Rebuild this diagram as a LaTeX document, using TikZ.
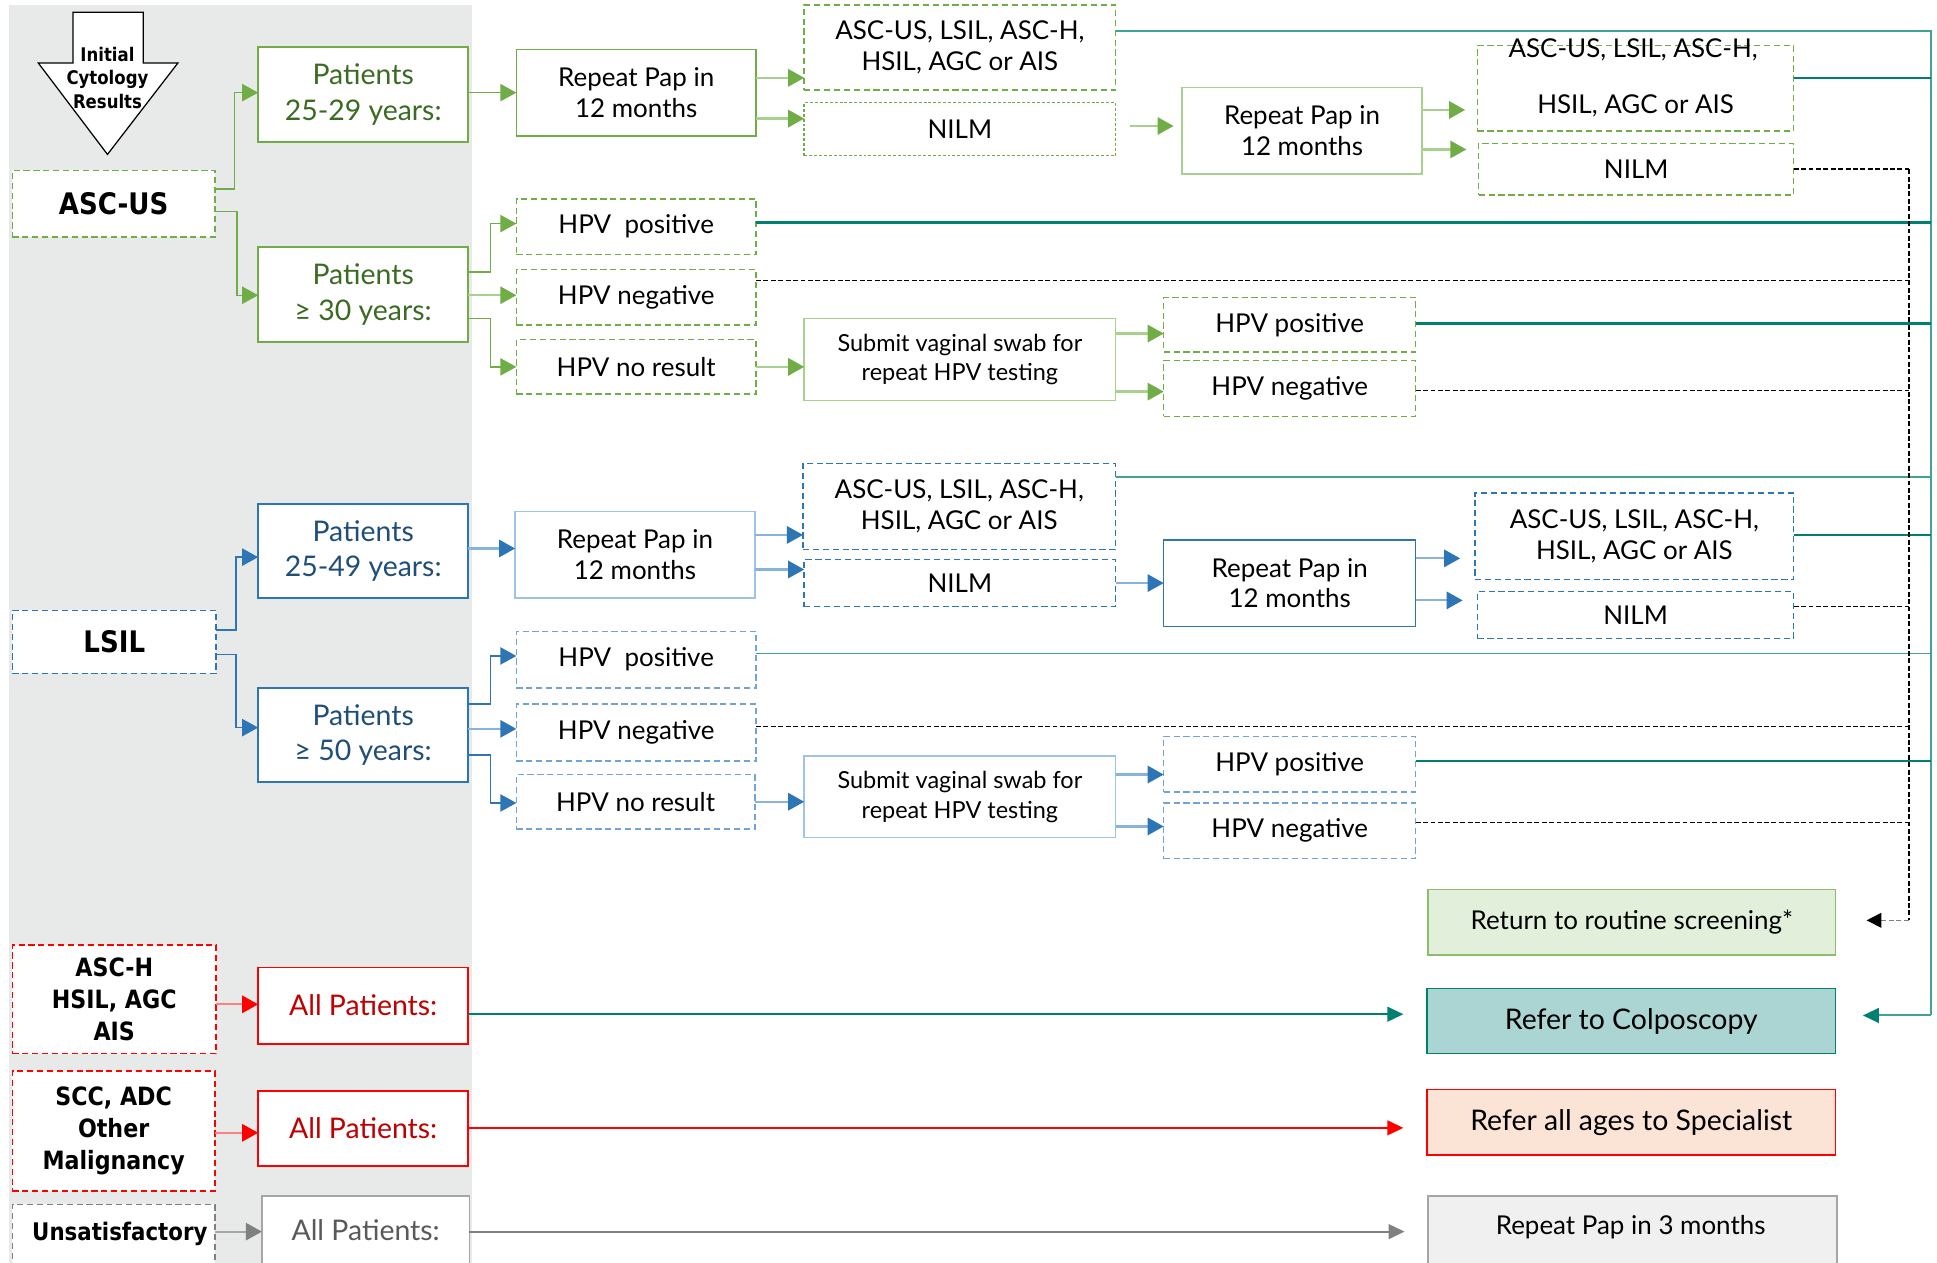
\documentclass[tikz,border=0pt]{standalone}
\usepackage{fontspec}
\setmainfont{Lato}
\newfontfamily\labfont[FakeStretch=0.88]{DejaVu Sans}
\usetikzlibrary{arrows.meta}
\definecolor{gr}{HTML}{70AD47}
\definecolor{grl}{HTML}{A9D18E}
\definecolor{grt}{HTML}{3B6B23}
\definecolor{bl}{HTML}{2E75B6}
\definecolor{bll}{HTML}{9DC3E6}
\definecolor{blt}{HTML}{1F4E79}
\definecolor{tl}{HTML}{00806F}
\definecolor{tll}{HTML}{3FA396}
\definecolor{rd}{HTML}{FF0000}
\definecolor{rdt}{HTML}{C00000}
\definecolor{gy}{HTML}{808080}
\definecolor{gyl}{HTML}{A6A6A6}
\definecolor{gyt}{HTML}{595959}
\definecolor{bgc}{HTML}{E8EAE9}
\definecolor{retf}{HTML}{E2EFDA}
\definecolor{colf}{HTML}{AAD5D2}
\definecolor{spf}{HTML}{FBE3D6}
\definecolor{rpf}{HTML}{F0F0F0}
\newcommand{\mybox}[7]{%
  \pgfmathsetmacro\bxw{(#4-#2)*0.5}%
  \pgfmathsetmacro\bxh{(#5-#3)*0.5}%
  \pgfmathsetmacro\bxx{(#2+#4)/2}%
  \pgfmathsetmacro\bxy{(#3+#5)/2}%
  \node[#6, minimum width=\bxw pt, minimum height=\bxh pt] (#1) at (\bxx,\bxy) {#7};}
\begin{document}
\begin{tikzpicture}[x=0.5pt,y=-0.5pt,
  base/.style={inner sep=0pt, outer sep=0pt, align=center, fill=white, line width=0.6pt},
  pat/.style={base, font=\fontsize{11.5}{14.5}\selectfont},
  mid/.style={base, font=\fontsize{10.5}{12.5}\selectfont},
  swabf/.style={base, font=\fontsize{9.5}{12}\selectfont},
  lab/.style={base, font=\labfont\bfseries\fontsize{12}{13}\selectfont},
  labs/.style={base, font=\labfont\bfseries\fontsize{10.2}{13}\selectfont},
  gdash/.style={draw=gr, dash pattern=on 2.5pt off 1.5pt},
  gfine/.style={draw=gr, dash pattern=on 1.2pt off 0.8pt},
  bdash/.style={draw=bl, dash pattern=on 2.5pt off 1.5pt},
  rdash/.style={draw=rd, dash pattern=on 2.5pt off 1.5pt},
  ydash/.style={draw=gy, dash pattern=on 2.5pt off 1.5pt},
  garr/.style={draw=grl, line width=0.9pt, -{Triangle[length=6.5pt,width=7pt,color=gr]}},
  gcon/.style={draw=gr, line width=0.6pt, -{Triangle[length=6.5pt,width=7pt,color=gr]}},
  barr/.style={draw=bll!80!bl, line width=0.9pt, -{Triangle[length=6.5pt,width=7pt,color=bl]}},
  bcon/.style={draw=bl, line width=0.6pt, -{Triangle[length=6.5pt,width=7pt,color=bl]}},
  tline/.style={draw=tl, line width=1pt},
  tthin/.style={draw=tll, line width=0.6pt},
  dline/.style={draw=black, line width=0.6pt, dash pattern=on 2pt off 1pt},
  bigarr/.style={line width=0.8pt, -{Triangle[length=6.5pt,width=6pt]}}
]
\useasboundingbox (0,0) rectangle (1568,1022);
\clip (0,0) rectangle (1568,1022);
\fill[white] (0,0) rectangle (1568,1022);
\fill[bgc] (7,4) rectangle (382,1030);

% initial cytology arrow
\draw[fill=white, line width=0.5pt] (59,10) -- (116,10) -- (116,51) -- (144,51) -- (87,125) -- (31,51) -- (59,51) -- cycle;
\node[inner sep=0pt, align=center, font=\labfont\bfseries\fontsize{7.6}{9.6}\selectfont] (init) at (87,63) {Initial\\Cytology\\Results};

% left column
\mybox{ascus}{10}{138}{174}{192}{lab,gdash}{ASC-US}
\mybox{lsil}{10}{494}{175}{545}{lab,bdash}{LSIL}
\mybox{asch}{10}{765}{175}{853}{labs,rdash}{ASC-H\\HSIL, AGC\\AIS}
\mybox{scc}{10}{867}{174}{964}{labs,rdash}{SCC, ADC\\Other\\Malignancy}
\mybox{unsat}{10}{975}{174}{1040}{base,ydash}{}
\node[font=\labfont\bfseries\fontsize{9.8}{12}\selectfont, inner sep=0pt] (unsattxt) at (97,999) {Unsatisfactory};

\mybox{p2529}{209}{38}{379}{115}{pat,draw=gr,text=grt}{Patients\\25-29 years:}
\mybox{p30}{209}{200}{379}{277}{pat,draw=gr,text=grt}{Patients\\≥ 30 years:}
\mybox{p2549}{209}{408}{379}{484}{pat,draw=bl,text=blt}{Patients\\25-49 years:}
\mybox{p50}{209}{557}{379}{633}{pat,draw=bl,text=blt}{Patients\\≥ 50 years:}
\mybox{allr1}{209}{783}{379}{845}{pat,draw=rd,text=rdt}{All Patients:}
\mybox{allr2}{209}{883}{379}{944}{pat,draw=rd,text=rdt}{All Patients:}
\mybox{allg}{212}{968}{380}{1040}{pat,draw=gyl,text=gyt}{}
\node[font=\fontsize{11.5}{14}\selectfont, text=gyt, inner sep=0pt] (allgtxt) at (296,996) {All Patients:};

% ASC-US section
\mybox{rp1}{418}{40}{612}{110}{mid,draw=gr}{Repeat Pap in\\12 months}
\mybox{al1}{651}{4}{903}{73}{mid,gdash}{ASC-US, LSIL, ASC-H,\\HSIL, AGC or AIS}
\mybox{nilm1}{651}{83}{903}{126}{mid,gfine}{NILM}
\mybox{hpos1}{418}{161}{612}{206}{mid,gdash}{HPV\ \ positive}
\mybox{hneg1}{418}{218}{612}{263}{mid,gdash}{HPV negative}
\mybox{hnr1}{418}{275}{612}{319}{mid,gdash}{HPV no result}
\mybox{swab1}{651}{258}{903}{324}{swabf,draw=grl}{Submit vaginal swab for\\repeat HPV testing}
\mybox{rp2}{957}{71}{1151}{141}{mid,draw=grl}{Repeat Pap in\\12 months}
\mybox{al2}{1196}{37}{1452}{106}{mid,gdash,fill=none}{}
\node[font=\fontsize{10.5}{12.5}\selectfont, inner sep=0pt] (al2a) at (1322,40) {ASC-US, LSIL, ASC-H,};
\node[font=\fontsize{10.5}{12.5}\selectfont, inner sep=0pt] (al2b) at (1324,86) {HSIL, AGC or AIS};
\mybox{nilm2}{1197}{116}{1452}{158}{mid,gdash}{NILM}
\mybox{hpos2}{942}{241}{1146}{285}{mid,gdash}{HPV positive}
\mybox{hneg2}{942}{292}{1146}{337}{mid,gdash}{HPV negative}

% LSIL section
\mybox{rp3}{417}{414}{611}{484}{mid,draw=bll}{Repeat Pap in\\12 months}
\mybox{al3}{650}{375}{903}{445}{mid,bdash}{ASC-US, LSIL, ASC-H,\\HSIL, AGC or AIS}
\mybox{nilm3}{651}{453}{903}{491}{mid,bdash}{NILM}
\mybox{hpos3}{418}{511}{612}{557}{mid,bdash,draw=bll!60!bl}{HPV\ \ positive}
\mybox{hneg3}{418}{570}{612}{616}{mid,bdash,draw=bll!60!bl}{HPV negative}
\mybox{hnr3}{418}{627}{611}{671}{mid,bdash,draw=bll!60!bl}{HPV no result}
\mybox{swab3}{651}{612}{903}{678}{swabf,draw=bll}{Submit vaginal swab for\\repeat HPV testing}
\mybox{rp4}{942}{437}{1146}{507}{mid,draw=bl}{Repeat Pap in\\12 months}
\mybox{al4}{1194}{399}{1452}{469}{mid,bdash}{ASC-US, LSIL, ASC-H,\\HSIL, AGC or AIS}
\mybox{nilm4}{1196}{479}{1452}{517}{mid,bdash}{NILM}
\mybox{hpos4}{942}{596}{1146}{641}{mid,bdash,draw=bll!60!bl}{HPV positive}
\mybox{hneg4}{942}{650}{1146}{695}{mid,bdash,draw=bll!60!bl}{HPV negative}

% outcomes
\mybox{ret}{1156}{720}{1486}{773}{mid,draw=gr!80,fill=retf}{Return to routine screening*}
\mybox{colpo}{1155}{800}{1486}{853}{pat,draw=tl,fill=colf}{Refer to Colposcopy}
\mybox{spec}{1155}{882}{1486}{935}{pat,draw=rd,fill=spf}{Refer all ages to Specialist}
\mybox{rp3m}{1156}{968}{1487}{1040}{mid,draw=gyl,fill=rpf}{}
\node[font=\fontsize{10.5}{12.5}\selectfont, inner sep=0pt] (rp3mtxt) at (1320,993) {Repeat Pap in 3 months};

% left connectors
\draw[gcon] (ascus.east |- 0,153) -- (190,153) |- (p2529.west |- 0,75);
\draw[gcon] (ascus.east |- 0,171) -- (192,171) |- (p30.west |- 0,239);
\draw[bcon] (lsil.east |- 0,510) -- (191,510) |- (p2549.west |- 0,451);
\draw[bcon] (lsil.east |- 0,530) -- (191,530) |- (p50.west |- 0,589);
\draw[bigarr, draw=rd!50, -{Triangle[length=6.5pt,width=7pt,color=rd]}] (asch.east |- 0,813) -- (allr1.west |- 0,813);
\draw[bigarr, draw=rd!50, -{Triangle[length=6.5pt,width=7pt,color=rd]}] (scc.east |- 0,917) -- (allr2.west |- 0,917);
\draw[bigarr, draw=gyl, -{Triangle[length=6.5pt,width=7pt,color=gy]}] (unsat.east |- 0,997) -- (allg.west |- 0,997);

% ASC-US middle connectors
\draw[gcon] (p2529.east |- 0,75) -- (rp1.west |- 0,75);
\draw[garr] (rp1.east |- 0,63) -- (al1.west |- 0,63);
\draw[garr] (rp1.east |- 0,96) -- (nilm1.west |- 0,96);
\draw[garr, shorten <=6pt, shorten >=3.5pt] (nilm1.east |- 0,102) -- (rp2.west |- 0,102);
\draw[garr, shorten >=5pt] (rp2.east |- 0,89) -- (al2.west |- 0,89);
\draw[garr, shorten >=5pt] (rp2.east |- 0,121) -- (nilm2.west |- 0,121);
\draw[gcon] (p30.east |- 0,220) -- (397,220) |- (hpos1.west |- 0,181);
\draw[garr] (p30.east |- 0,239) -- (hneg1.west |- 0,239);
\draw[gcon] (p30.east |- 0,258) -- (397,258) |- (hnr1.west |- 0,297);
\draw[garr] (hnr1.east |- 0,297) -- (swab1.west |- 0,297);
\draw[garr] (swab1.east |- 0,270) -- (hpos2.west |- 0,270);
\draw[garr] (swab1.east |- 0,317) -- (hneg2.west |- 0,317);

% LSIL middle connectors
\draw[barr] (p2549.east |- 0,444) -- (rp3.west |- 0,444);
\draw[barr] (rp3.east |- 0,433) -- (al3.west |- 0,433);
\draw[barr] (rp3.east |- 0,461) -- (nilm3.west |- 0,461);
\draw[barr] (nilm3.east |- 0,472) -- (rp4.west |- 0,472);
\draw[barr, shorten >=6pt] (rp4.east |- 0,452) -- (al4.west |- 0,452);
\draw[barr, shorten >=6pt] (rp4.east |- 0,486) -- (nilm4.west |- 0,486);
\draw[bcon] (p50.east |- 0,570) -- (397,570) |- (hpos3.west |- 0,531);
\draw[barr] (p50.east |- 0,590) -- (hneg3.west |- 0,590);
\draw[bcon] (p50.east |- 0,611) -- (397,611) |- (hnr3.west |- 0,650);
\draw[barr] (hnr3.east |- 0,649) -- (swab3.west |- 0,649);
\draw[barr] (swab3.east |- 0,627) -- (hpos4.west |- 0,627);
\draw[barr] (swab3.east |- 0,669) -- (hneg4.west |- 0,669);

% teal lines to colposcopy
\coordinate (ttop) at (1563,25);
\coordinate (tbot) at (1563,822);
\draw[tthin] (al1.east |- ttop) -- (ttop) -- (tbot);
\draw[tline] (al2.east |- 0,63) -- (ttop |- 0,63);
\draw[tline] (hpos1.east |- 0,180) -- (ttop |- 0,180);
\draw[tline] (hpos2.east |- 0,262) -- (ttop |- 0,262);
\draw[tthin] (al3.east |- 0,386) -- (ttop |- 0,386);
\draw[tline] (al4.east |- 0,433) -- (ttop |- 0,433);
\draw[tthin] (hpos3.east |- 0,529) -- (ttop |- 0,529);
\draw[tline] (hpos4.east |- 0,616) -- (ttop |- 0,616);
\draw[tthin, line width=0.8pt, -{Triangle[length=6.5pt,width=6pt,color=tl]}, shorten >=11pt] (tbot) -- (colpo.east |- tbot);

% dashed lines to routine screening
\coordinate (dtop) at (1545,137);
\coordinate (dbot) at (1545,745);
\draw[dline] (nilm2.east |- dtop) -- (dtop);
\draw[dline, line width=0.8pt] (dtop) -- (dbot);
\draw[dline] (hneg1.east |- 0,227) -- (dtop |- 0,227);
\draw[dline] (hneg2.east |- 0,316) -- (dtop |- 0,316);
\draw[dline] (nilm4.east |- 0,491) -- (dtop |- 0,491);
\draw[dline] (hneg3.east |- 0,588) -- (dtop |- 0,588);
\draw[dline] (hneg4.east |- 0,666) -- (dtop |- 0,666);
\draw[draw=gy, line width=0.6pt, dash pattern=on 2pt off 1pt, -{Triangle[length=6pt,width=6pt,color=black]}, shorten >=12.5pt] (dbot) -- (ret.east |- dbot);

% bottom long arrows
\draw[bigarr, draw=tl, -{Triangle[length=6.5pt,width=6pt,color=tl]}, shorten >=9.5pt] (allr1.east |- 0,821) -- (colpo.west |- 0,821);
\draw[bigarr, draw=rd, -{Triangle[length=6.5pt,width=6pt,color=rd]}, shorten >=9.5pt] (allr2.east |- 0,913) -- (spec.west |- 0,913);
\draw[bigarr, draw=gy, -{Triangle[length=6.5pt,width=6pt,color=gy]}, shorten >=9.5pt] (allg.east |- 0,997) -- (rp3m.west |- 0,997);
\end{tikzpicture}
\end{document}
